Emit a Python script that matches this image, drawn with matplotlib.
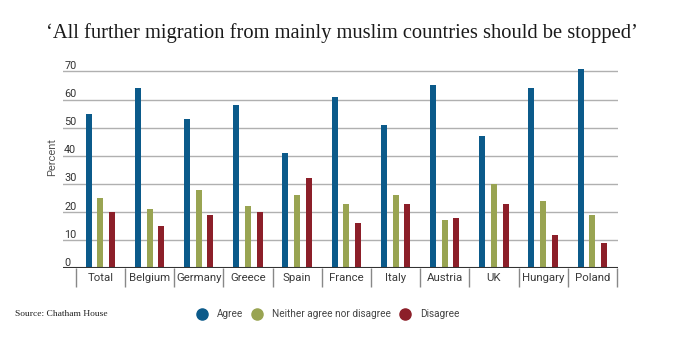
import matplotlib.pyplot as plt
import numpy as np

countries = ["Total", "Belgium", "Germany", "Greece", "Spain", "France",
             "Italy", "Austria", "UK", "Hungary", "Poland"]
agree = [55, 64, 53, 58, 41, 61, 51, 65, 47, 64, 71]
neither = [25, 21, 28, 22, 26, 23, 26, 17, 30, 24, 19]
disagree = [20, 15, 19, 20, 32, 16, 23, 18, 23, 12, 9]

series = ["Agree", "Neither agree nor disagree", "Disagree"]
colors = ["#0b5a8a", "#99a452", "#8c1f29"]
yticks = [0, 10, 20, 30, 40, 50, 60, 70]

W, H = 680, 340
fig = plt.figure(figsize=(W / 100, H / 100), dpi=100)

# axes box in pixel terms
left, right, base, top = 63, 618, 268.3, 57.3
ax = fig.add_axes([left / W, (H - base) / H, (right - left) / W, (base - top) / H])
ax.set_xlim(-0.758, 10.52)
ax.set_ylim(0, 75)

x = np.arange(len(countries))
off = 0.238
bw = 0.122
for vals, dx, c in zip([agree, neither, disagree], [-off, 0, off], colors):
    ax.bar(x + dx, vals, width=bw, color=c, zorder=3)

# gridlines and baseline
for v in yticks:
    if v:
        ax.axhline(v, color="#b0b0b0", lw=1, zorder=1)
    ax.text(0.002, v + 0.9, str(v), transform=ax.get_yaxis_transform(),
            ha="left", va="baseline", fontsize=7.8, family="Roboto", color="#333333")
ax.axhline(0, color="#333333", lw=1.5, zorder=4)

# category separators below the baseline
ax.vlines(np.arange(len(countries) + 1) - 0.5, -6.8, 0, color="#888888",
          lw=1, clip_on=False)
for xi, name in zip(x, countries):
    ax.text(xi, -3.5, name, ha="center", va="center", fontsize=8.2,
            family="Roboto", color="#3a3a3a", clip_on=False)

for s in ax.spines.values():
    s.set_visible(False)
ax.set_xticks([])
ax.set_yticks([])

fig.text(52 / W, 1 - 157 / H, "Percent", rotation=90, ha="center", va="center",
         fontsize=8, family="Roboto", color="#555555")

fig.text(0.5 * (45 + 638) / W, 1 - 33 / H,
         "\u2018All further migration from mainly muslim countries should be stopped\u2019",
         ha="center", va="center", fontsize=14.8, family="Liberation Serif", color="#1a1a1a")

fig.text(15 / W, 1 - 314 / H, "Source: Chatham House", ha="left", va="center",
         fontsize=6.8, family="Liberation Serif", color="#222222")

# legend
lg = fig.add_axes([0, 0, 1, 1], zorder=5)
lg.set_xlim(0, W)
lg.set_ylim(H, 0)
lg.axis("off")
for cx, tx, label, c in zip([202, 257, 405], [217, 272, 420], series, colors):
    lg.plot(cx, 314, "o", ms=8, color=c)
    lg.text(tx, 314, label, ha="left", va="center", fontsize=7.2,
            family="Roboto", color="#444444")

fig.savefig("out.png", dpi=100, facecolor="white")
